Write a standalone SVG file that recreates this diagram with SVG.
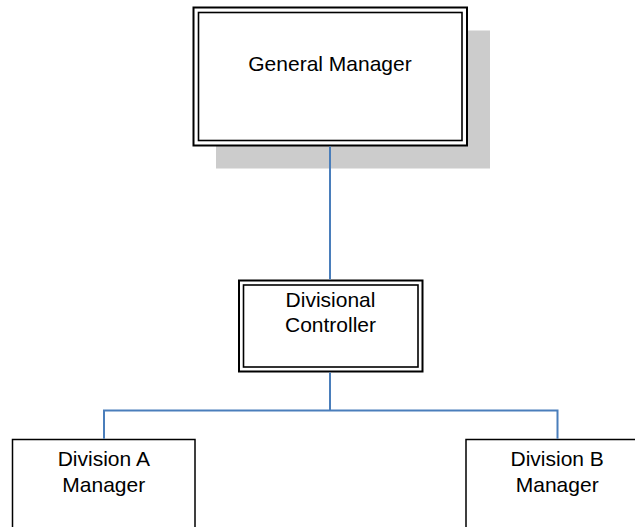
<svg xmlns="http://www.w3.org/2000/svg" width="635" height="527" viewBox="0 0 635 527">
  <style>
    .lbl { font-family: "Liberation Sans", Arial, sans-serif; font-size: 21px; fill: #000; text-anchor: middle; }
    .outer { fill: #fff; stroke: #000; stroke-width: 2; }
    .inner { fill: none; stroke: #000; stroke-width: 1.6; }
    .box { fill: #fff; stroke: #000; stroke-width: 1.5; }
    .wire { fill: none; stroke: #4a7ebb; stroke-width: 2; }
  </style>
  <rect width="635" height="527" fill="#fff"/>

  <g id="general-manager">
    <rect x="216" y="30.5" width="274" height="138" fill="#cccccc"/>
    <rect class="outer" x="193.5" y="7.5" width="273.5" height="138"/>
    <rect class="inner" x="198.5" y="12.5" width="263.5" height="128"/>
    <text class="lbl" x="330" y="70.5">General Manager</text>
  </g>

  <g id="divisional-controller">
    <rect class="outer" x="239" y="280.5" width="183.5" height="91"/>
    <rect class="inner" x="243.5" y="285" width="174.5" height="82"/>
    <text class="lbl" x="330.5" y="306.5">Divisional</text>
    <text class="lbl" x="330.5" y="332.3">Controller</text>
  </g>

  <g id="division-a">
    <rect class="box" x="12.5" y="439.5" width="182.5" height="110"/>
    <text class="lbl" x="103.8" y="465.7">Division A</text>
    <text class="lbl" x="103.8" y="491.7">Manager</text>
  </g>

  <g id="division-b">
    <rect class="box" x="466" y="439.5" width="182.5" height="110"/>
    <text class="lbl" x="557.2" y="465.7">Division B</text>
    <text class="lbl" x="557.2" y="491.7">Manager</text>
  </g>

  <!-- drawn last so the top link runs over the drop shadow -->
  <g id="connectors">
    <path class="wire" d="M330 146.5 V279.5"/>
    <path class="wire" d="M330 372.5 V410.5 M104 438.8 V410.5 H557.5 V438.8"/>
  </g>
</svg>
